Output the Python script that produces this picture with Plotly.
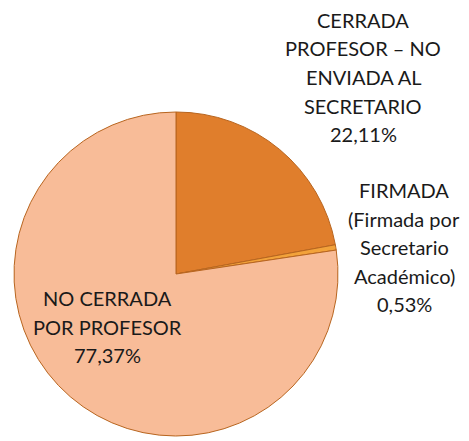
import plotly.graph_objects as go

# Estado de las actas
labels = [["CERRADA", "PROFESOR – NO", "ENVIADA AL", "SECRETARIO"],
          ["FIRMADA", "(Firmada por", "Secretario", "Académico)"],
          ["NO CERRADA", "POR PROFESOR"]]
values = [22.11, 0.53, 77.37]
colors = ["#E07E2C", "#F2A23A", "#F8BC98"]

# label block: centre x and first-line y, in page pixels
label_pos = [(363, 20), (404, 190), (107, 298)]
line_h = 28.5

W, H = 469, 441
off = 8  # page body margin
cx, cy, r = 176 - off, 274 - off, 162

fig = go.Figure(go.Pie(
    labels=[" ".join(l) for l in labels], values=values, sort=False,
    direction="clockwise", rotation=0,
    marker=dict(colors=colors, line=dict(color="#B8651F", width=1)),
    textinfo="none", hoverinfo="label+percent", showlegend=False,
    domain=dict(x=[(cx - r) / W, (cx + r) / W],
                y=[(H - cy - r) / H, (H - cy + r) / H]),
))

for lines, val, (px, py) in zip(labels, values, label_pos):
    all_lines = lines + [f"{val:.2f}".replace(".", ",") + "%"]
    for i, t in enumerate(all_lines):
        fig.add_annotation(x=(px - off) / W, y=1 - (py - off + i * line_h) / H,
                           xref="paper", yref="paper", text=t,
                           xanchor="center", yanchor="middle", showarrow=False,
                           font=dict(family="Lato, Carlito, sans-serif", size=20,
                                     color="#1a1a1a"))

fig.update_layout(width=W, height=H, margin=dict(l=0, r=0, t=0, b=0),
                  paper_bgcolor="white", plot_bgcolor="white")
fig.write_html("out.html")
